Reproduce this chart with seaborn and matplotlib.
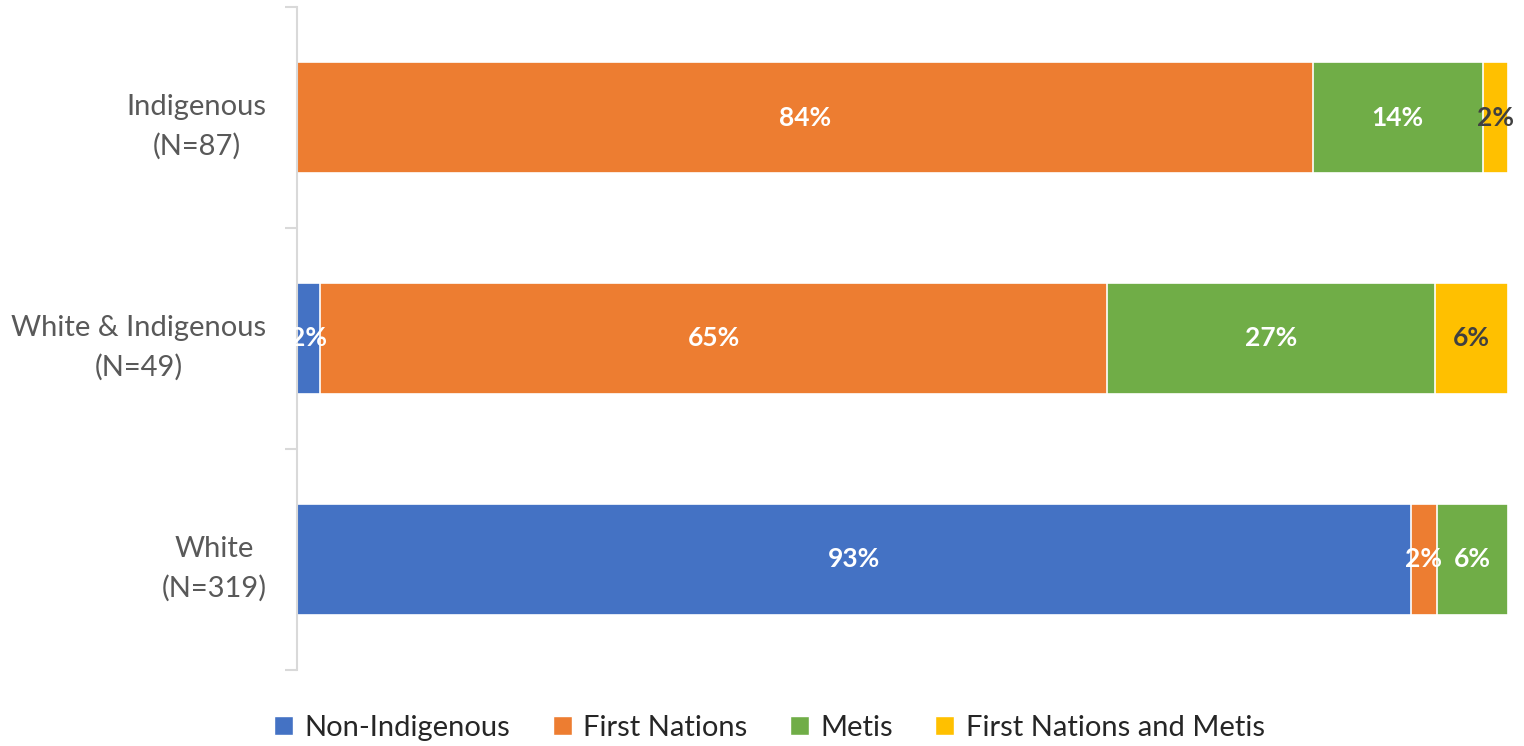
import pandas as pd
import matplotlib.pyplot as plt
import seaborn as sns
from matplotlib.patches import Patch

# Data
groups = ['Indigenous\n(N=87)', 'White & Indigenous\n(N=49)', 'White\n(N=319)']
series = ['Non-Indigenous', 'First Nations', 'Metis', 'First Nations and Metis']
non_indigenous = [0.0, 1.9, 92.0]
first_nations = [83.9, 65.0, 2.1]
metis = [14.0, 27.1, 5.9]
fn_and_metis = [2.1, 6.0, 0.0]
labels = [
    ['', '84%', '14%', '2%'],
    ['2%', '65%', '27%', '6%'],
    ['93%', '2%', '6%', ''],
]
colors = ['#4472C4', '#ED7D31', '#70AD47', '#FFC000']
label_colors = ['white', 'white', 'white', '#404040']

df = pd.DataFrame({
    'group': groups,
    'Non-Indigenous': non_indigenous,
    'First Nations': first_nations,
    'Metis': metis,
    'First Nations and Metis': fn_and_metis,
})
cum = df[series].cumsum(axis=1)
cum['group'] = df['group']

sns.set_style('white')
plt.rcParams['font.family'] = ['Lato', 'DejaVu Sans']

fig = plt.figure(figsize=(15.24, 7.46), dpi=100)
ax = fig.add_axes([0.1949, 0.1019, 0.7946, 0.8887])

# stacked bars: draw cumulative totals from the right-most series back to the first
for s, c in reversed(list(zip(series, colors))):
    sns.barplot(data=cum, x=s, y='group', orient='h', color=c, saturation=1,
                width=0.5, edgecolor='white', linewidth=1.2, ax=ax)

# segment labels
for i, g in enumerate(groups):
    left = 0
    for j, s in enumerate(series):
        v = df.loc[i, s]
        if labels[i][j]:
            ax.text(left + v / 2, i, labels[i][j], ha='center', va='center',
                    color=label_colors[j], fontsize=19, fontweight='bold')
        left += v

ax.set_xlim(0, 100)
ax.set_ylim(2.5, -0.5)
ax.set_xlabel('')
ax.set_ylabel('')
ax.set_xticks([])
ax.set_yticks([0, 1, 2])
ax.set_yticklabels(groups, color='#595959', fontsize=21, linespacing=1.6,
                   ha='right', multialignment='center')
ax.tick_params(axis='y', which='major', left=False, length=0, pad=22)
ax.set_yticks([-0.5, 0.5, 1.5, 2.5], minor=True)
ax.tick_params(axis='y', which='minor', left=True, length=9, width=1.5, color='#D9D9D9')
for side in ['top', 'right', 'bottom']:
    ax.spines[side].set_visible(False)
ax.spines['left'].set_color('#D9D9D9')
ax.spines['left'].set_linewidth(1.5)

handles = [Patch(facecolor=c, label=s) for s, c in zip(series, colors)]
fig.legend(handles=handles, loc='lower center', bbox_to_anchor=(0.505, -0.028), ncol=4,
           frameon=False, fontsize=21, handlelength=0.65, handleheight=0.65,
           handletextpad=0.4, columnspacing=1.45)

fig.savefig('out.png', dpi=100)
